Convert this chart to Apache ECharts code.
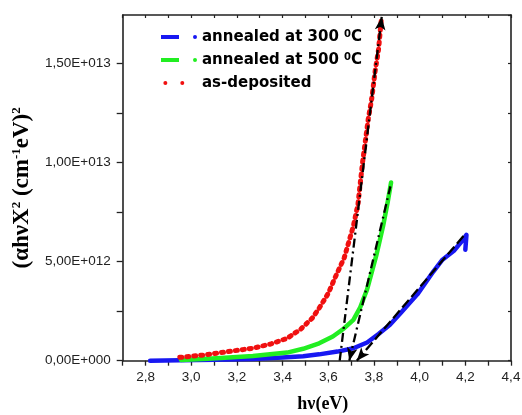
<!DOCTYPE html>
<html><head><meta charset="utf-8">
<script src="https://cdn.jsdelivr.net/npm/echarts@6/dist/echarts.min.js"></script>
<style>html,body{margin:0;padding:0;background:#fff}#c{width:522px;height:415px}</style>
</head><body><div id="c"></div>
<script>
// ---- data ----
const seriesNames = ['annealed at 300⁰C', 'annealed at 500⁰C', 'as-deposited'];

const x300 = [2.82, 2.95, 3.10, 3.27, 3.40, 3.49, 3.56, 3.64, 3.71, 3.77, 3.82, 3.87, 3.92, 3.99, 4.06, 4.10, 4.15, 4.19, 4.205, 4.20];
const y300 = [0, 0.02e12, 0.05e12, 0.09e12, 0.16e12, 0.23e12, 0.32e12, 0.46e12, 0.63e12, 0.92e12, 1.35e12, 1.82e12, 2.45e12, 3.35e12, 4.5e12, 5.1e12, 5.55e12, 6.1e12, 6.35e12, 5.6e12];

const x500 = [2.955, 3.05, 3.13, 3.27, 3.42, 3.49, 3.56, 3.62, 3.67, 3.71, 3.74, 3.77, 3.81, 3.84, 3.86, 3.875];
const y500 = [0.04e12, 0.09e12, 0.14e12, 0.24e12, 0.41e12, 0.6e12, 0.88e12, 1.22e12, 1.64e12, 2.06e12, 2.7e12, 3.6e12, 5.3e12, 6.8e12, 8.0e12, 9.0e12];

const xDep = [2.95, 3.05, 3.13, 3.27, 3.35, 3.42, 3.48, 3.53, 3.56, 3.60, 3.63, 3.67, 3.71, 3.73, 3.75, 3.775, 3.79, 3.805, 3.82, 3.832];
const yDep = [0.17e12, 0.28e12, 0.41e12, 0.63e12, 0.85e12, 1.13e12, 1.6e12, 2.15e12, 2.65e12, 3.4e12, 4.2e12, 5.2e12, 6.8e12, 7.9e12, 10.0e12, 12.2e12, 13.2e12, 14.6e12, 15.7e12, 17.2e12];

// linear-fit (tangent) lines: [start, end]
const tangent300 = [[3.725, 0], [4.20, 6.4e12]];
const tangent500 = [[3.692, 0], [3.872, 8.8e12]];
const tangentDep = [[3.650, 0], [3.834, 17.35e12]];

const xRange = [2.7, 4.4];
const yRange = [0, 17.45e12];

// ---- helpers ----
function pairs(xs, ys) { return xs.map((x, i) => [x, ys[i]]); }
function fmtY(v) {
  const k = Math.round(v / 5e12);
  if (Math.abs(v - k * 5e12) > 1e9) return '';
  if (v === 0) return '0,00E+000';
  const e = Math.floor(Math.log10(v) + 1e-9);
  const m = v / Math.pow(10, e);
  return m.toFixed(2).replace('.', ',') + 'E+' + String(e).padStart(3, '0');
}
function fmtX(v) {
  const t = Math.round(v * 10);
  if (t % 2 !== 0) return '';
  return (t / 10).toFixed(1).replace('.', ',');
}
function tangentLine(t, startSym, endSym, type) {
  return {
    silent: true, animation: false,
    label: { show: false },
    lineStyle: { color: '#000', width: 2.3, type: type, opacity: 1 },
    symbolSize: [8, 13],
    emphasis: { disabled: true },
    data: [[{ coord: t[0], symbol: startSym }, { coord: t[1], symbol: endSym }]]
  };
}

const dashDot = [9, 4, 2, 4];
const iconDash = 'path://M0,0L18,0L18,4L0,4Z M32,2A2,2,0,1,1,36,2A2,2,0,1,1,32,2Z';
const iconDots = 'path://M0,2A2.3,2.3,0,1,1,4.6,2A2.3,2.3,0,1,1,0,2Z M19.5,2A2.3,2.3,0,1,1,24.1,2A2.3,2.3,0,1,1,19.5,2Z M36,0L36,4';

const axisColor = '#222';
const chart = echarts.init(document.getElementById('c'), null, { renderer: 'canvas' });
chart.setOption({
  animation: false,
  backgroundColor: '#fff',
  grid: { left: 122.7, right: 11, top: 15, bottom: 54.3, outerBoundsMode: 'none' },
  legend: {
    orient: 'vertical', left: 161, top: 29, padding: 0,
    itemWidth: 36, itemHeight: 4, itemGap: 7,
    itemStyle: { borderWidth: 0 },
    selectedMode: false,
    data: [
      { name: seriesNames[0], icon: iconDash },
      { name: seriesNames[1], icon: iconDash },
      { name: seriesNames[2], icon: iconDots }
    ],
    formatter: n => n.replace('⁰', ' {sup|0}'),
    textStyle: {
      fontFamily: 'DejaVu Sans', fontWeight: 'bold', fontSize: 15, color: '#000', lineHeight: 16,
      rich: { sup: { fontFamily: 'DejaVu Sans', fontWeight: 'bold', fontSize: 10, color: '#000', verticalAlign: 'top', lineHeight: 16 } }
    }
  },
  xAxis: [{
    type: 'value', min: xRange[0], max: xRange[1], interval: 0.1,
    name: 'hν(eV)', nameLocation: 'middle', nameGap: 35,
    nameTextStyle: { fontFamily: 'Liberation Serif', fontWeight: 'bold', fontSize: 18, color: '#000', padding: [0, 0, 0, 12] },
    axisLine: { show: true, onZero: false, lineStyle: { color: axisColor, width: 1.6 } },
    axisTick: { show: true, inside: false, length: 5, lineStyle: { color: axisColor, width: 1.3 } },
    axisLabel: { formatter: fmtX, margin: 10, fontFamily: 'Liberation Sans', fontSize: 13.5, color: '#222', showMinLabel: true, showMaxLabel: true },
    splitLine: { show: false }
  }, {
    type: 'value', position: 'top', min: xRange[0], max: xRange[1], interval: 0.1,
    axisLine: { show: true, onZero: false, lineStyle: { color: axisColor, width: 1.6 } },
    axisTick: { show: true, inside: true, length: 3, lineStyle: { color: axisColor, width: 1.2 } },
    axisLabel: { show: false }, splitLine: { show: false }
  }],
  yAxis: [{
    type: 'value', min: yRange[0], max: yRange[1], interval: 2.5e12,
    name: '(αhνX{sup|2} (cm{sup|-1}eV){sup|2}', nameLocation: 'middle', nameRotate: 90, nameGap: 83,
    nameTextStyle: {
      fontFamily: 'Liberation Serif', fontWeight: 'bold', fontSize: 23, color: '#000', lineHeight: 24,
      rich: { sup: { fontFamily: 'Liberation Serif', fontWeight: 'bold', fontSize: 13, color: '#000', verticalAlign: 'top', lineHeight: 24 } }
    },
    axisLine: { show: true, onZero: false, lineStyle: { color: axisColor, width: 1.6 } },
    axisTick: { show: true, inside: false, length: 6, lineStyle: { color: axisColor, width: 1.3 } },
    axisLabel: { formatter: fmtY, margin: 12, fontFamily: 'Liberation Sans', fontSize: 13.5, color: '#222', showMaxLabel: false },
    splitLine: { show: false }
  }, {
    type: 'value', position: 'right', min: yRange[0], max: yRange[1], interval: 2.5e12,
    axisLine: { show: true, onZero: false, lineStyle: { color: axisColor, width: 1.6 } },
    axisTick: { show: true, inside: true, length: 3, lineStyle: { color: axisColor, width: 1.2 } },
    axisLabel: { show: false }, splitLine: { show: false }
  }],
  series: [
    {
      name: seriesNames[0], type: 'line', data: pairs(x300, y300), showSymbol: false, z: 3,
      itemStyle: { color: '#1818f2' },
      lineStyle: { color: '#1818f2', width: 4.5, cap: 'round', join: 'round' },
      markLine: tangentLine(tangent300, 'arrow', 'none', [10, 4])
    },
    {
      name: seriesNames[1], type: 'line', data: pairs(x500, y500), showSymbol: false, z: 3,
      itemStyle: { color: '#22ee22' },
      lineStyle: { color: '#22ee22', width: 4.5, cap: 'round', join: 'round' },
      markLine: tangentLine(tangent500, 'arrow', 'none', dashDot)
    },
    {
      name: seriesNames[2], type: 'line', data: pairs(xDep, yDep), showSymbol: false, z: 3,
      itemStyle: { color: '#f01010' },
      lineStyle: { color: '#f01010', width: 5, cap: 'round', join: 'round', type: [2, 5] },
      markLine: tangentLine(tangentDep, 'none', 'arrow', dashDot)
    }
  ]
});
</script></body></html>
